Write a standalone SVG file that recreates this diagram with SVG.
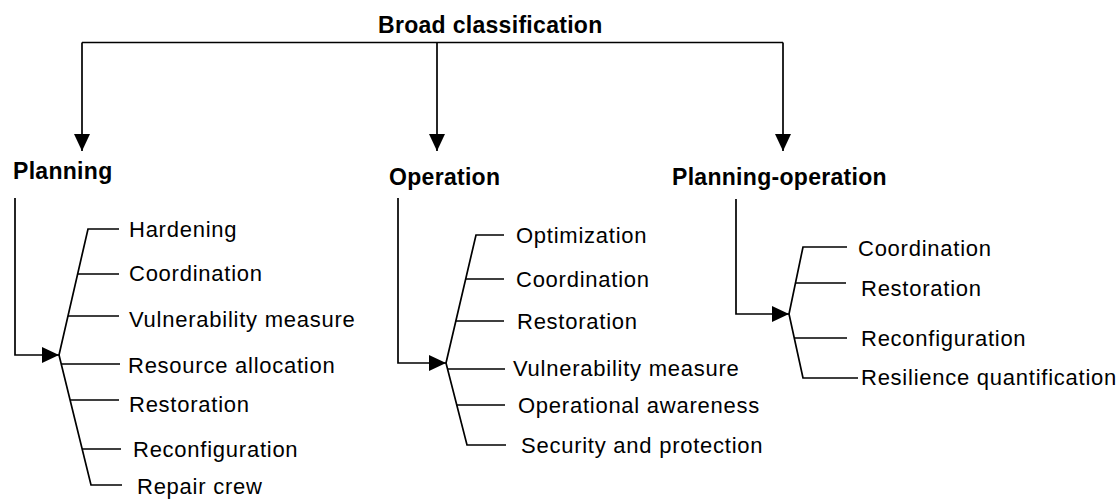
<svg xmlns="http://www.w3.org/2000/svg" width="1117" height="502" viewBox="0 0 1117 502">
<style>
.ln{fill:none;stroke:#000;stroke-width:1.7}
.h{font-family:"Liberation Sans",Arial,sans-serif;font-weight:bold;font-size:23px;letter-spacing:0.3px;fill:#000}
.t{font-family:"Liberation Sans",Arial,sans-serif;font-size:22px;letter-spacing:0.75px;fill:#000}
</style>
<defs>
<marker id="arr" markerUnits="userSpaceOnUse" markerWidth="17" markerHeight="16" refX="17" refY="8" orient="auto">
<path d="M0,0 L17,8 L0,16 z" fill="#000"/>
</marker>
</defs>
<rect width="1117" height="502" fill="#fff"/>
<g id="connectors">
<path class="ln" d="M82,42.5 H783"/>
<path class="ln" d="M82,42.5 V151" marker-end="url(#arr)"/>
<path class="ln" d="M437,42.5 V151" marker-end="url(#arr)"/>
<path class="ln" d="M783,42.5 V151" marker-end="url(#arr)"/>
<path class="ln" d="M15,198 V355 H59" marker-end="url(#arr)"/>
<path class="ln" d="M398,198 V363 H446" marker-end="url(#arr)"/>
<path class="ln" d="M736,199 V314 H789" marker-end="url(#arr)"/>
<path class="ln" d="M119,229 H88 L59,355 L91,485 H122"/>
<path class="ln" d="M77.6,274 H119 M68,316 H119 M61.2,364 H120 M70,400 H119 M82.1,449 H121"/>
<path class="ln" d="M504,235 H476 L446,363 L467,445 H506"/>
<path class="ln" d="M465.7,279 H504 M455.9,321 H504 M447.5,369 H505 M456.8,405 H505"/>
<path class="ln" d="M847,247 H803 L789,314 L803,378 H858"/>
<path class="ln" d="M795.5,283 H846 M794.3,338 H847"/>
</g>
<g id="broad"><text class="h" x="378" y="33">Broad classification</text></g>
<g id="planning"><text class="h" x="13" y="179">Planning</text></g>
<g id="operation"><text class="h" x="389" y="185">Operation</text></g>
<g id="planning-operation"><text class="h" x="672" y="185">Planning-operation</text></g>
<g id="p-hardening"><text class="t" x="129" y="237">Hardening</text></g>
<g id="p-coordination"><text class="t" x="129" y="281">Coordination</text></g>
<g id="p-vulnerability"><text class="t" x="129" y="327">Vulnerability measure</text></g>
<g id="p-resource"><text class="t" x="128" y="373">Resource allocation</text></g>
<g id="p-restoration"><text class="t" x="129" y="412">Restoration</text></g>
<g id="p-reconfiguration"><text class="t" x="133" y="457">Reconfiguration</text></g>
<g id="p-repair"><text class="t" x="137" y="494">Repair crew</text></g>
<g id="o-optimization"><text class="t" x="516" y="243">Optimization</text></g>
<g id="o-coordination"><text class="t" x="516" y="287">Coordination</text></g>
<g id="o-restoration"><text class="t" x="517" y="329">Restoration</text></g>
<g id="o-vulnerability"><text class="t" x="513" y="376">Vulnerability measure</text></g>
<g id="o-awareness"><text class="t" x="518" y="413">Operational awareness</text></g>
<g id="o-security"><text class="t" x="521" y="453">Security and protection</text></g>
<g id="po-coordination"><text class="t" x="858" y="256">Coordination</text></g>
<g id="po-restoration"><text class="t" x="861" y="296">Restoration</text></g>
<g id="po-reconfiguration"><text class="t" x="861" y="346">Reconfiguration</text></g>
<g id="po-resilience"><text class="t" x="861" y="385">Resilience quantification</text></g>
</svg>
